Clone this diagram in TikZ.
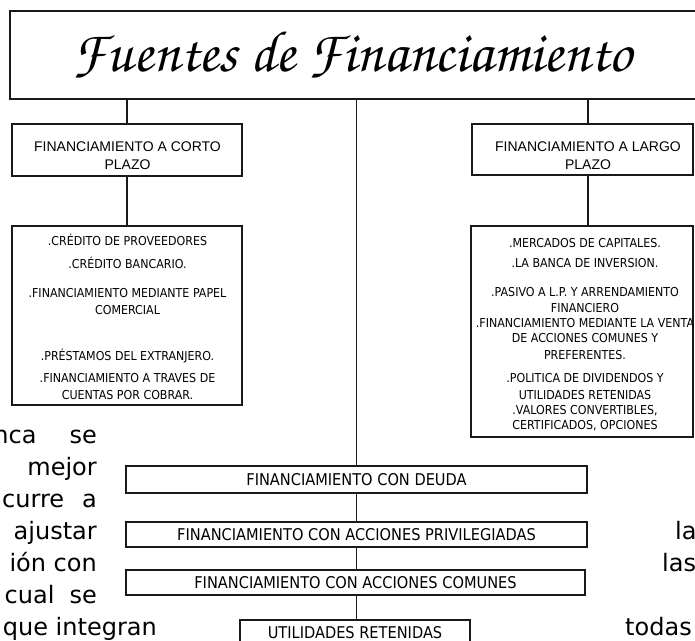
\documentclass[tikz,border=0pt]{standalone}
\usepackage[T1]{fontenc}
\usepackage{fontspec}
\usepackage{graphicx}
\newfontfamily\tahomaf[FakeStretch=0.9]{DejaVu Sans}
\newfontfamily\arialf{Liberation Sans}
\newfontfamily\verdf{DejaVu Sans}
\newcommand\titlefont{\fontencoding{T1}\fontfamily{pzc}\fontseries{mb}\fontshape{it}\selectfont}
\begin{document}
\begin{tikzpicture}[x=1pt,y=-1pt,
  box/.style={draw=black!90, line width=1.2pt, rectangle, inner sep=0pt},
  conn/.style={draw=black!90, line width=1.2pt},
  headtext/.style={font=\arialf\fontsize{14}{18}\selectfont, align=center, inner sep=0pt},
  listtext/.style={font=\tahomaf\fontsize{12.3}{17}\selectfont, align=center, inner sep=0pt},
  rowbox/.style={box, font=\tahomaf\fontsize{16.2}{19}\selectfont, minimum height=26pt},
  bgtext/.style={font=\verdf\fontsize{24}{32}\selectfont, text=black, inner sep=0pt}]
\clip (0,0) rectangle (695,640);
\fill[white] (0,0) rectangle (695,640);
% title
\node[box, minimum width=700pt, minimum height=88pt] (title) at (360,55)
  {\hspace*{-15pt}\resizebox{559pt}{!}{\titlefont Fuentes de Financiamiento}};
% heads
\node[box, minimum width=230pt, minimum height=52pt] (corto) at (127,150) {};
\node[headtext] (cortot) at (127.5,156) {FINANCIAMIENTO A CORTO\\PLAZO};
\node[box, minimum width=221pt, minimum height=51pt] (largo) at (582.5,149.5) {};
\node[headtext] (largot) at (588,156) {FINANCIAMIENTO A LARGO\\PLAZO};
% lists
\node[box, minimum width=230pt, minimum height=179pt] (lcorto) at (127,315.5) {};
\node[listtext] (lcortot) at (127.5,316.8) {.CRÉDITO DE PROVEEDORES\\[6pt]
.CRÉDITO BANCARIO.\\[12pt]
.FINANCIAMIENTO MEDIANTE PAPEL\\
COMERCIAL\\[29pt]
.PRÉSTAMOS DEL EXTRANJERO.\\[5pt]
.FINANCIAMIENTO A TRAVES DE\\
CUENTAS POR COBRAR.};
\node[box, minimum width=222pt, minimum height=211pt] (llargo) at (582,331.5) {};
\node[listtext, font=\tahomaf\fontsize{12.3}{16}\selectfont] (llargot) at (585,334.6) {.MERCADOS DE CAPITALES.\\[4pt]
.LA BANCA DE INVERSION.\\[13pt]
.PASIVO A L.P. Y ARRENDAMIENTO\\
FINANCIERO\\[-1pt]
.FINANCIAMIENTO MEDIANTE LA VENTA\\[-1pt]
DE ACCIONES COMUNES Y\\[1pt]
PREFERENTES.\\[7pt]
.POLITICA DE DIVIDENDOS Y\\[1pt]
UTILIDADES RETENIDAS\\[-1pt]
.VALORES CONVERTIBLES,\\[-1pt]
CERTIFICADOS, OPCIONES};
% rows
\node[rowbox, minimum width=461pt, minimum height=27pt] (deuda) at (356.5,479.5) {FINANCIAMIENTO CON DEUDA};
\node[rowbox, minimum width=461pt, minimum height=25pt] (priv) at (356.5,534.5) {FINANCIAMIENTO CON ACCIONES PRIVILEGIADAS};
\node[rowbox, minimum width=459pt, minimum height=25pt] (comunes) at (355.5,582.5) {FINANCIAMIENTO CON ACCIONES COMUNES};
\node[rowbox, minimum width=230pt, minimum height=26pt] (util) at (355,633) {UTILIDADES RETENIDAS};
% connectors
\coordinate (lx) at (127,0);
\coordinate (rx) at (588,0);
\coordinate (cx) at (356.5,0);
\draw[conn] (title.south -| lx) -- (corto.north -| lx);
\draw[conn] (corto.south -| lx) -- (lcorto.north -| lx);
\draw[conn] (title.south -| rx) -- (largo.north -| rx);
\draw[conn] (largo.south -| rx) -- (llargo.north -| rx);
\draw[conn] (title.south -| cx) -- (deuda.north -| cx);
\draw[conn] (deuda.south -| cx) -- (priv.north -| cx);
\draw[conn] (priv.south -| cx) -- (comunes.north -| cx);
\draw[conn] (comunes.south -| cx) -- (util.north -| cx);
% background page text fragments
\node[bgtext, anchor=base east] (b1) at (97,443) {nca\hspace{33pt}se};
\node[bgtext, anchor=base east] (b2) at (97,475) {mejor};
\node[bgtext, anchor=base east] (b3) at (97,507) {curre\hspace{18pt}a};
\node[bgtext, anchor=base east] (b4) at (97,539) {ajustar};
\node[bgtext, anchor=base east] (b5) at (97,571) {ión con};
\node[bgtext, anchor=base east] (b6) at (97,603) {cual\hspace{15pt}se};
\node[bgtext, anchor=base east] (b7) at (157,635) {que integran};
\node[bgtext, anchor=base west] (b8) at (675,539) {la};
\node[bgtext, anchor=base west] (b9) at (662,571) {las};
\node[bgtext, anchor=base west] (b10) at (625,635) {todas};
\end{tikzpicture}
\end{document}
